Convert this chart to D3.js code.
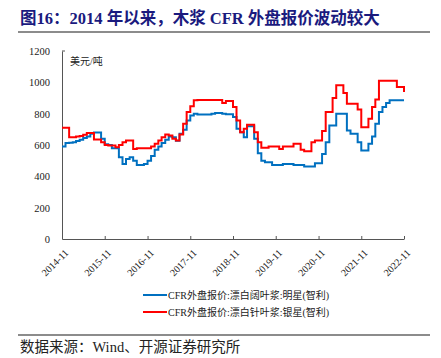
<!DOCTYPE html>
<html>
<head>
<meta charset="utf-8">
<script src="https://cdn.jsdelivr.net/npm/d3@7"></script>
<style>
  html, body { margin: 0; padding: 0; background: #fff; }
  svg { display: block; }
</style>
</head>
<body>
<svg id="chart" width="441" height="358"></svg>
<script>
const titleText = "图16：2014 年以来，木浆 CFR 外盘报价波动较大";
const unitLabel = "美元/吨";
const sourceText = "数据来源：Wind、开源证券研究所";
const startMonth = "2014-11";
const seriesNames = [
  "CFR外盘报价:漂白阔叶浆:明星(智利)",
  "CFR外盘报价:漂白针叶浆:银星(智利)"
];
const seriesColors = ["#0070C0", "#FF0000"];
const xTickLabels = ["2014-11","2015-11","2016-11","2017-11","2018-11","2019-11","2020-11","2021-11","2022-11"];
const yTicks = [0, 200, 400, 600, 800, 1000, 1200];

// monthly values, 2014-11 .. 2022-11
const hardwood = [
  590, 612, 615, 618, 625, 633, 645, 655, 672, 680, 680, 640,
  605, 600, 580, 580, 522, 479, 511, 522, 500, 473, 473, 479,
  500, 530, 569, 590, 612, 633, 655, 650, 627, 672, 697, 757,
  789, 800, 794, 794, 794, 794, 800, 804, 804, 800, 796, 796,
  778, 704, 682, 650, 719, 719, 640, 548, 500, 490, 490, 473,
  473, 473, 479, 479, 479, 473, 473, 473, 462, 462, 462, 483,
  483, 543, 618, 725, 725, 800, 800, 800, 693, 672, 672, 618,
  565, 565, 608, 655, 736, 810, 843, 868, 886, 886, 886, 886,
  886
];
const softwood = [
  710, 710, 650, 650, 655, 657, 665, 676, 676, 635, 635, 618,
  600, 597, 597, 585, 600, 618, 629, 629, 575, 580, 580, 580,
  580, 590, 608, 629, 650, 667, 660, 640, 629, 667, 736, 810,
  847, 886, 888, 888, 888, 888, 888, 888, 888, 868, 881, 881,
  843, 757, 682, 704, 730, 730, 682, 618, 582, 582, 590, 590,
  590, 575, 590, 590, 590, 608, 608, 569, 560, 560, 618, 629,
  629, 689, 810, 810, 900, 982, 982, 932, 864, 864, 864, 826,
  714, 714, 768, 843, 890, 1010, 1010, 1010, 1010, 1010, 971, 971,
  939
];

const svg = d3.select("#chart");
const serif = "'Liberation Serif', 'Times New Roman', 'Noto Sans CJK SC', serif";

// Title
svg.append("text")
  .attr("x", 20).attr("y", 24)
  .attr("font-family", serif)
  .attr("font-weight", "bold")
  .attr("font-size", 16.5)
  .attr("fill", "#1a1a7e")
  .text(titleText);
svg.append("line")
  .attr("x1", 18).attr("x2", 430).attr("y1", 32).attr("y2", 32)
  .attr("stroke", "#8c8c8c").attr("stroke-width", 2);

const parse = d3.timeParse("%Y-%m");
const t0 = parse(startMonth);
const n = hardwood.length;
const dates = d3.range(n).map(i => d3.timeMonth.offset(t0, i));
const endDate = d3.timeMonth.offset(t0, n - 1);

const x = d3.scaleTime().domain([t0, endDate]).range([62, 404]);
const y = d3.scaleLinear().domain([0, 1200]).range([239, 51]);

// axes
const xAxis = d3.axisBottom(x)
  .tickValues(xTickLabels.map(parse))
  .tickSizeInner(-3).tickSizeOuter(0)
  .tickFormat(d3.timeFormat("%Y-%m"));
const gx = svg.append("g").attr("transform", "translate(0,239)").call(xAxis);
gx.select(".domain").attr("stroke", "#555");
gx.selectAll(".tick line").attr("stroke", "#555");
gx.selectAll(".tick text")
  .attr("font-family", serif).attr("font-size", 10).attr("fill", "#222")
  .attr("text-anchor", "end")
  .attr("transform", "translate(4,12) rotate(-45)")
  .attr("dy", "0.35em").attr("y", 0).attr("x", 0);

const yAxis = d3.axisLeft(y).tickValues(yTicks).tickSize(0).tickPadding(12)
  .tickFormat(d3.format("d"));
const gy = svg.append("g").attr("transform", "translate(62,0)").call(yAxis);
gy.select(".domain").attr("stroke", "#555");
gy.selectAll(".tick text")
  .attr("font-family", serif).attr("font-size", 10.5).attr("fill", "#222");
// top cap tick
gy.append("line").attr("x1", 0).attr("x2", 3).attr("y1", y(1200)).attr("y2", y(1200))
  .attr("stroke", "#555");

svg.append("text")
  .attr("x", 70).attr("y", 65)
  .attr("font-family", serif).attr("font-size", 10).attr("fill", "#222")
  .text(unitLabel);

// lines
const line = d3.line()
  .x((d, i) => x(dates[i]))
  .y(d => y(d))
  .curve(d3.curveStepAfter);

[hardwood, softwood].forEach((s, k) => {
  svg.append("path")
    .attr("d", line(s))
    .attr("fill", "none")
    .attr("stroke", seriesColors[k])
    .attr("stroke-width", 2)
    .attr("stroke-linejoin", "miter");
});

// legend
const legY = [295, 312];
seriesNames.forEach((name, k) => {
  svg.append("line")
    .attr("x1", 143).attr("x2", 167)
    .attr("y1", legY[k]).attr("y2", legY[k])
    .attr("stroke", seriesColors[k]).attr("stroke-width", 2);
  svg.append("text")
    .attr("x", 168).attr("y", legY[k]).attr("dy", "0.35em")
    .attr("font-family", serif).attr("font-size", 10).attr("fill", "#222")
    .text(name);
});

// source
svg.append("line")
  .attr("x1", 18).attr("x2", 430).attr("y1", 335).attr("y2", 335)
  .attr("stroke", "#666").attr("stroke-width", 1.5);
svg.append("text")
  .attr("x", 20).attr("y", 352)
  .attr("font-family", serif).attr("font-size", 14.5).attr("fill", "#222")
  .text(sourceText);
</script>
</body>
</html>
